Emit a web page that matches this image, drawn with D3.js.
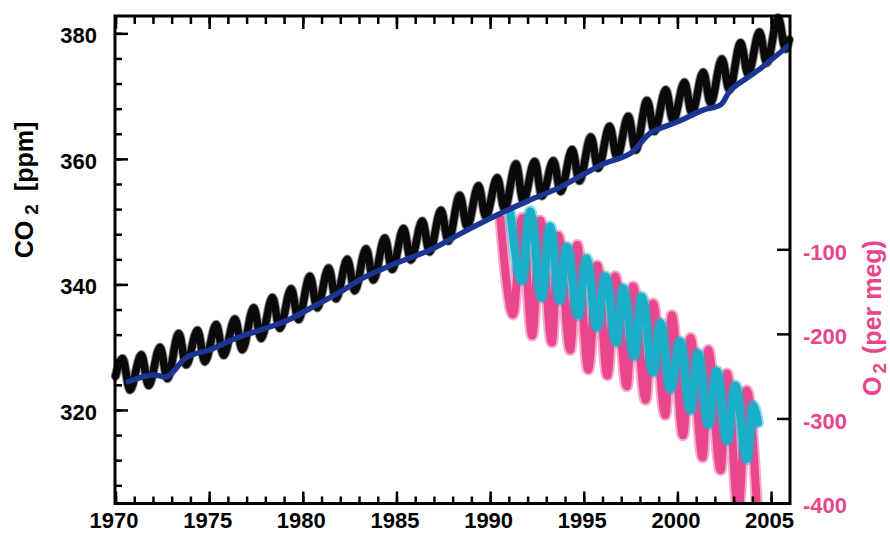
<!DOCTYPE html>
<html>
<head>
<meta charset="utf-8">
<script src="https://cdn.jsdelivr.net/npm/d3@7"></script>
<style>
  html, body { margin: 0; padding: 0; background: #fff; }
  svg { display: block; }
  text { font-family: "Liberation Sans", Arial, Helvetica, sans-serif; font-weight: bold; }
</style>
</head>
<body>
<svg id="chart" width="890" height="533"></svg>
<script>
// ---------------- DATA ----------------
// Mauna Loa CO2 (black): seasonal maxima (~May) and minima (~Oct), ppm
const mloYears = [1970,1971,1972,1973,1974,1975,1976,1977,1978,1979,1980,1981,1982,1983,1984,1985,1986,1987,1988,1989,
                  1990,1991,1992,1993,1994,1995,1996,1997,1998,1999,2000,2001,2002,2003,2004,2005];
const mloPeak   = [328.2,328.8,330.0,332.2,332.7,333.6,334.5,336.3,337.9,339.3,341.3,342.6,344.0,345.7,347.4,348.9,350.1,351.8,354.2,355.7,
                   357.0,359.2,359.6,359.7,361.5,363.5,365.2,366.8,369.3,371.0,372.2,373.8,375.9,378.5,380.2,382.5];
const mloTrough = [323.2,323.9,325.0,327.2,327.7,328.7,329.6,331.4,333.0,334.4,336.3,337.7,339.0,340.7,342.4,343.9,345.2,346.9,349.2,350.8,
                   352.0,353.3,354.1,354.8,356.5,358.5,360.3,361.4,364.4,366.1,367.3,368.9,371.0,373.5,375.3,377.5];
const mloStart = [1970.0, 325.4];
const mloEnd   = [2005.97, 379.0];
const peakPhase = 0.38, troughPhase = 0.77;

// Baring Head CO2 (blue): [year, ppm]
const bhdYears = [1970.67,1972.0,1972.75,1973.8,1975.05,1976.5,1977.7,1979.2,1980.4,1982.0,1983.2,1985.0,1986.8,1988.55,
                  1990.4,1992.1,1993.75,1995.9,1997.5,1998.55,2000.0,2001.4,2002.3,2002.85,2004.3,2005.95];
const bhdCO2   = [324.5,325.6,325.3,328.4,329.6,331.5,332.7,334.3,336.2,338.8,341.0,343.4,345.5,348.3,
                  351.1,353.4,355.5,359.0,360.9,364.1,365.9,367.8,368.6,371.0,374.1,378.1];

// Alert O2/N2 (pink): [year, per meg]
const altYears = [1990.55,1991.23,1991.7,1992.25,1992.68,1993.3,1993.64,1994.28,1994.65,1995.24,1995.72,1996.26,1996.68,
                  1997.3,1997.64,1998.3,1998.7,1999.35,1999.7,2000.3,2000.7,2001.35,2001.65,2002.3,2002.65,2003.25,2003.7,2004.3];
const altO2    = [-64,-177,-63,-202,-66,-210,-84,-219,-95,-242,-119,-249,-132,
                  -262,-144,-278,-164,-296,-178,-320,-205,-346,-219,-361,-247,-410,-267,-425];

// Cape Grim O2/N2 (cyan): [year, per meg]
const cgoYears = [1991.08,1991.7,1992.14,1992.75,1993.2,1993.72,1994.1,1994.7,1995.15,1995.7,1996.15,1996.75,1997.1,
                  1997.7,1998.1,1998.7,1999.1,1999.62,2000.15,2000.7,2001.1,2001.65,2002.1,2002.65,2003.1,2003.7,2004.05,2004.3];
const cgoO2    = [-58,-137,-55,-157,-73,-160,-97,-178,-111,-192,-132,-210,-146,
                  -226,-156,-245,-187,-265,-209,-290,-223,-307,-244,-326,-261,-348,-285,-305];

// Axis ticks
const xMajorTicks = [1970,1975,1980,1985,1990,1995,2000,2005];
const xMinorTicks = [1970,1971,1972,1973,1974,1975,1976,1977,1978,1979,1980,1981,1982,1983,1984,1985,1986,1987,1988,1989,
                     1990,1991,1992,1993,1994,1995,1996,1997,1998,1999,2000,2001,2002,2003,2004,2005];
const yLeftMajor = [320,340,360,380];
const yLeftMinor = [308,312,316,320,324,328,332,336,340,344,348,352,356,360,364,368,372,376,380];
const yRightMajor = [-100,-200,-300,-400];

// ---------------- LAYOUT ----------------
const L = 115, R = 790, T = 16, B = 503.5;
const svg = d3.select("#chart");

const x = d3.scaleLinear().domain([1970, 2006]).range([115.5, 789.8]);
const yL = d3.scaleLinear().domain([305.1, 382.76]).range([B, T]);
const yR = d3.scaleLinear().domain([-400, 175.9]).range([503, T]);

svg.append("defs").append("clipPath").attr("id", "plotclip")
  .append("rect").attr("x", L).attr("y", T).attr("width", R - L).attr("height", B - T);

// build series
const mloPts = [mloStart];
mloYears.forEach((yr, i) => {
  mloPts.push([yr + peakPhase, mloPeak[i]]);
  mloPts.push([yr + troughPhase, mloTrough[i]]);
});
mloPts.push(mloEnd);
const bhdPts = bhdYears.map((d, i) => [d, bhdCO2[i]]);
const altPts = altYears.map((d, i) => [d, altO2[i]]);
const cgoPts = cgoYears.map((d, i) => [d, cgoO2[i]]);

const lineL = d3.line().x(d => x(d[0])).y(d => yL(d[1])).curve(d3.curveMonotoneX);
const lineR = d3.line().x(d => x(d[0])).y(d => yR(d[1])).curve(d3.curveMonotoneX);
const lineBlue = d3.line().x(d => x(d[0])).y(d => yL(d[1])).curve(d3.curveCatmullRom);

function band(g, pts, gen, color, wOuter, wInner, clip) {
  const a = g.append("path").datum(pts).attr("d", gen)
    .attr("fill", "none").attr("stroke", color).attr("stroke-width", wOuter).attr("stroke-opacity", 0.45)
    .attr("stroke-linejoin", "round").attr("stroke-linecap", "round");
  const b = g.append("path").datum(pts).attr("d", gen)
    .attr("fill", "none").attr("stroke", color).attr("stroke-width", wInner)
    .attr("stroke-linejoin", "round").attr("stroke-linecap", "round");
  if (clip) { a.attr("clip-path", "url(#plotclip)"); b.attr("clip-path", "url(#plotclip)"); }
}

const gData = svg.append("g");
band(gData, altPts, lineR, "#e9468e", 12, 8, true);
band(gData, cgoPts, lineR, "#19afc8", 12, 8, true);
band(gData, mloPts, lineL, "#0a0a0a", 9.5, 7.5, false);
gData.append("path").datum(bhdPts).attr("d", lineBlue)
  .attr("fill", "none").attr("stroke", "#1a3592").attr("stroke-width", 5.5)
  .attr("stroke-linejoin", "round").attr("stroke-linecap", "round");

// ---------------- AXES ----------------
function styleAxis(g) {
  g.select(".domain").remove();
  g.selectAll(".tick line").attr("stroke", "#000").attr("stroke-width", 2.5);
  g.selectAll(".tick text").attr("fill", "#000").style("font-size", "22px");
}
const fmt = d => String(d);

// bottom
svg.append("g").attr("transform", `translate(0,${B})`)
  .call(d3.axisBottom(x).tickValues(xMinorTicks).tickSize(-7).tickFormat(""))
  .call(styleAxis);
const gxB = svg.append("g").attr("transform", `translate(0,${B})`)
  .call(d3.axisBottom(x).tickValues(xMajorTicks).tickSize(-12).tickPadding(9).tickFormat(fmt))
  .call(styleAxis);
gxB.selectAll(".tick text").attr("dx", -2);

// top
svg.append("g").attr("transform", `translate(0,${T})`)
  .call(d3.axisTop(x).tickValues(xMinorTicks).tickSize(-8).tickFormat(""))
  .call(styleAxis);
svg.append("g").attr("transform", `translate(0,${T})`)
  .call(d3.axisTop(x).tickValues(xMajorTicks).tickSize(-13).tickFormat(""))
  .call(styleAxis);

// left
svg.append("g").attr("transform", `translate(${L},0)`)
  .call(d3.axisLeft(yL).tickValues(yLeftMinor).tickSize(-7).tickFormat(""))
  .call(styleAxis);
const gyL = svg.append("g").attr("transform", `translate(${L},0)`)
  .call(d3.axisLeft(yL).tickValues(yLeftMajor).tickSize(-13).tickPadding(18).tickFormat(fmt))
  .call(styleAxis);
gyL.selectAll(".tick text").attr("dy", "0.42em");

// right
const gyR = svg.append("g").attr("transform", `translate(${R},0)`)
  .call(d3.axisRight(yR).tickValues(yRightMajor).tickSize(-13).tickPadding(13).tickFormat(fmt))
  .call(styleAxis);
gyR.selectAll(".tick text").attr("dy", "0.45em").attr("fill", "#e6468c");
gyR.selectAll(".tick line").filter(d => d === -400).remove();

// frame
svg.append("rect").attr("x", L).attr("y", T).attr("width", R - L).attr("height", B - T)
  .attr("fill", "none").attr("stroke", "#000").attr("stroke-width", 3);

// ---------------- TITLES ----------------
const tL = svg.append("text").attr("transform", "translate(33,190) rotate(-90)")
  .attr("text-anchor", "middle").style("font-size", "25px").attr("fill", "#000");
tL.append("tspan").text("CO");
tL.append("tspan").attr("dx", 6).attr("dy", 5).style("font-size", "19px").text("2");
tL.append("tspan").attr("dx", 6).attr("dy", -5).text(" [ppm]");

const tR = svg.append("text").attr("transform", "translate(881,318) rotate(-90)")
  .attr("text-anchor", "middle").style("font-size", "25px").attr("fill", "#e6468c");
tR.append("tspan").text("O");
tR.append("tspan").attr("dx", 3).attr("dy", 5).style("font-size", "19px").text("2");
tR.append("tspan").attr("dx", 2).attr("dy", -5).text(" (per meg)");
</script>
</body>
</html>
